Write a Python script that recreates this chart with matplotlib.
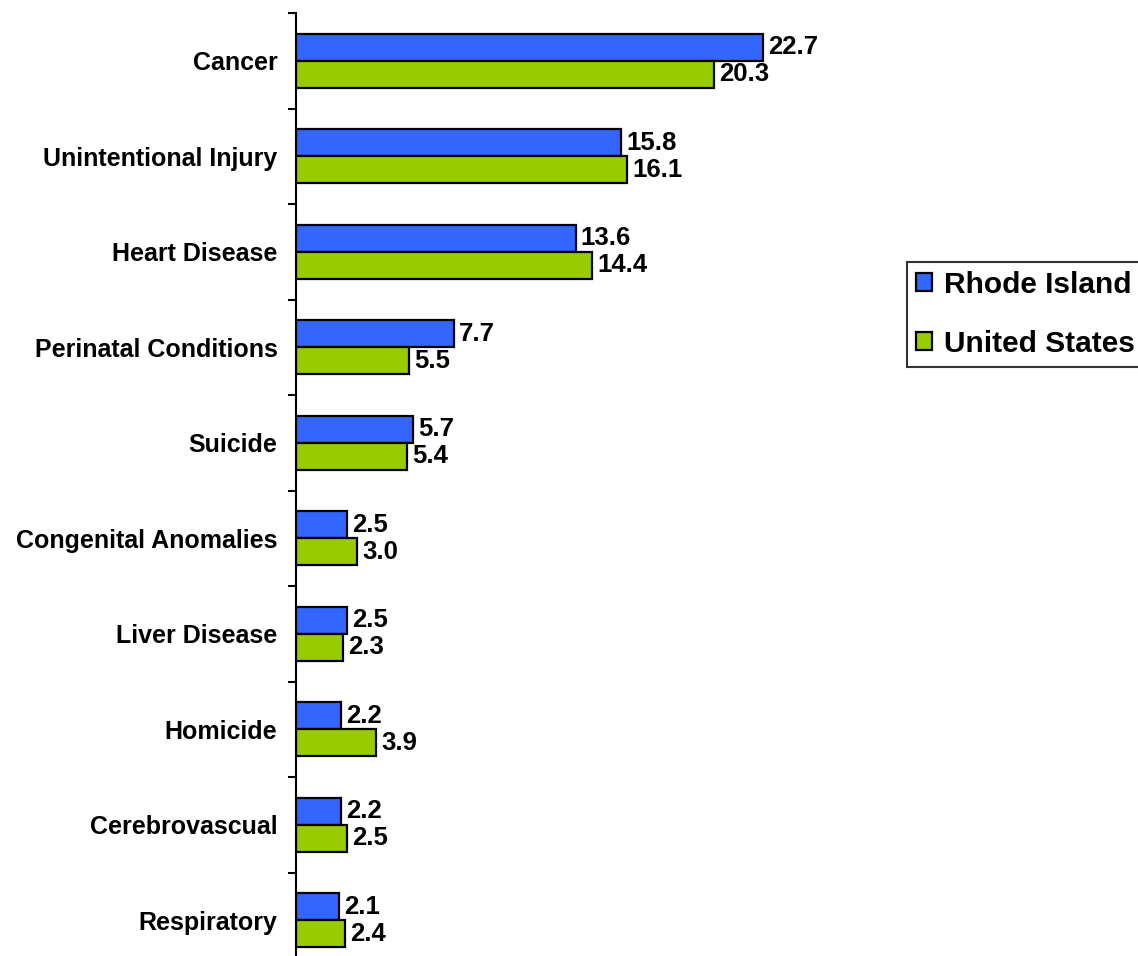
import matplotlib.pyplot as plt
import numpy as np

# Leading causes of death - Rhode Island vs United States
causes = ['Cancer', 'Unintentional Injury', 'Heart Disease', 'Perinatal Conditions',
          'Suicide', 'Congenital Anomalies', 'Liver Disease', 'Homicide',
          'Cerebrovascual', 'Respiratory']
rhode_island = [22.7, 15.8, 13.6, 7.7, 5.7, 2.5, 2.5, 2.2, 2.2, 2.1]
united_states = [20.3, 16.1, 14.4, 5.5, 5.4, 3.0, 2.3, 3.9, 2.5, 2.4]

plt.rcParams['font.family'] = ['Liberation Sans', 'DejaVu Sans']
plt.rcParams['font.weight'] = 'bold'

W, H = 1138, 956
fig = plt.figure(figsize=(W / 100, H / 100), dpi=100)

x0 = 295.5
px_per_unit = 20.6
xmax = 40
ax_top = 13
ax_h = 955
ax = fig.add_axes([x0 / W, 1 - (ax_top + ax_h) / H, xmax * px_per_unit / W, ax_h / H])

y = np.arange(len(causes))
h = 0.285
blue = '#3366FF'
green = '#99CC00'

b1 = ax.barh(y - h / 2, rhode_island, height=h, color=blue, edgecolor='black',
             linewidth=1.6, label='Rhode Island')
b2 = ax.barh(y + h / 2, united_states, height=h, color=green, edgecolor='black',
             linewidth=1.6, label='United States')

for bars, vals in [(b1, rhode_island), (b2, united_states)]:
    for bar, v in zip(bars, vals):
        ax.text(bar.get_width() + 0.25, bar.get_y() + bar.get_height() / 2,
                f'{v:.1f}', va='center', ha='left', fontsize=18.5, fontweight='bold')

ax.set_xlim(0, xmax)
ax.set_ylim(len(causes) - 0.5, -0.5)

# ticks at group boundaries, labels at group centres
ax.set_yticks(np.arange(len(causes) + 1) - 0.5)
ax.set_yticklabels([])
ax.set_yticks(y, minor=True)
ax.set_yticklabels(causes, minor=True, fontsize=18, fontweight='bold')
ax.tick_params(axis='y', which='major', length=6, width=1.5, direction='out')
ax.tick_params(axis='y', which='minor', length=0, pad=13)
ax.set_xticks([])

for s in ['top', 'right', 'bottom']:
    ax.spines[s].set_visible(False)
ax.spines['left'].set_linewidth(1.5)

leg = fig.legend(handles=[b1, b2], loc='upper left',
                 bbox_to_anchor=(907 / W, 1 - 262 / H), borderaxespad=0,
                 fontsize=21.5, frameon=True, fancybox=False, edgecolor='black',
                 handlelength=0.55, handleheight=0.55, handletextpad=0.4,
                 borderpad=0.3, labelspacing=1.03)
leg.get_frame().set_linewidth(1.5)

plt.savefig('out.png', dpi=100)
